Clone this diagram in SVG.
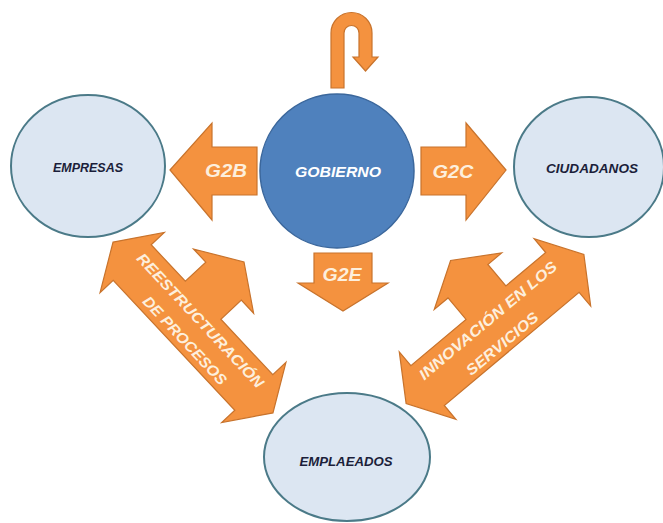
<svg xmlns="http://www.w3.org/2000/svg" width="663" height="523" viewBox="0 0 663 523">
<style>
.arrow{fill:#F4923F;stroke:#C8732C;stroke-width:1.2;stroke-linejoin:miter}
.alabel{font-family:"Liberation Sans",Arial,sans-serif;font-weight:bold;font-style:italic;fill:#FDEFDD;text-anchor:middle}
.node{fill:#DCE6F2;stroke:#4B7A88;stroke-width:2}
.gov{fill:#4F81BD;stroke:#3B679C;stroke-width:1.5}
.nlabel{font-family:"Liberation Sans",Arial,sans-serif;font-weight:bold;font-style:italic;font-size:13px;fill:#1B1E3A;text-anchor:middle}
.glabel{font-family:"Liberation Sans",Arial,sans-serif;font-weight:bold;font-style:italic;font-size:15px;fill:#FFFFFF;text-anchor:middle}
</style>
<rect width="663" height="523" fill="#FFFFFF"/>
<g id="connectors">
  <g id="self-loop">
    <path class="arrow" d="M331,88 L331,33 A20.5,20.5 0 0 1 372,33 L372,57 L378,57 L365.5,71 L353,57 L359,57 L359,33 A7.5,7.5 0 0 0 344,33 L344,88 Z"/>
  </g>
  <g id="g2b">
    <path class="arrow" d="M170,170 L212,123 L212,147 L257,147 L257,195 L212,195 L212,220 Z"/>
    <text class="alabel" x="226" y="177" font-size="19" textLength="42" lengthAdjust="spacingAndGlyphs">G2B</text>
  </g>
  <g id="g2c">
    <path class="arrow" d="M506,170 L466,123 L466,147 L421,147 L421,195 L466,195 L466,220 Z"/>
    <text class="alabel" x="453" y="178" font-size="19" textLength="41" lengthAdjust="spacingAndGlyphs">G2C</text>
  </g>
  <g id="g2e">
    <path class="arrow" d="M314,253 L372,253 L372,283 L388,283 L343,311 L298,283 L314,283 Z"/>
    <text class="alabel" x="342" y="281" font-size="18" textLength="39" lengthAdjust="spacingAndGlyphs">G2E</text>
  </g>
  <g id="reestructuracion" transform="translate(193,327.5) rotate(46.9)">
    <path class="arrow" d="M-117,0 L-89,-44 L-89,-26 L-39,-26 L-39,-54 L-57,-54 L-13,-82 L31,-54 L13,-54 L13,-26 L89,-26 L89,-44 L117,0 L89,44 L89,26 L-89,26 L-89,44 Z"/>
    <text class="alabel" x="0" y="-5" font-size="15" textLength="178" lengthAdjust="spacingAndGlyphs">REESTRUCTURACIÓN</text>
    <text class="alabel" x="4" y="20" font-size="15" textLength="115" lengthAdjust="spacingAndGlyphs">DE PROCESOS</text>
  </g>
  <g id="innovacion" transform="translate(495,329) rotate(-40)">
    <path class="arrow" d="M-116,0 L-88,-44 L-88,-26 L-16,-26 L-16,-54 L-34,-54 L10,-81 L54,-54 L36,-54 L36,-26 L88,-26 L88,-44 L116,0 L88,44 L88,26 L-88,26 L-88,44 Z"/>
    <text class="alabel" x="0" y="-6" font-size="15" textLength="175" lengthAdjust="spacingAndGlyphs">INNOVACIÓN EN LOS</text>
    <text class="alabel" x="-4" y="21" font-size="15" textLength="89" lengthAdjust="spacingAndGlyphs">SERVICIOS</text>
  </g>
</g>
<g id="empresas">
  <ellipse class="node" cx="88" cy="166" rx="77" ry="71"/>
  <text class="nlabel" x="88" y="172" textLength="70" lengthAdjust="spacingAndGlyphs">EMPRESAS</text>
</g>
<g id="gobierno">
  <circle class="gov" cx="337" cy="171" r="77"/>
  <text class="glabel" x="338" y="177" textLength="86" lengthAdjust="spacingAndGlyphs">GOBIERNO</text>
</g>
<g id="ciudadanos">
  <ellipse class="node" cx="589" cy="167" rx="75" ry="70"/>
  <text class="nlabel" x="592" y="173" textLength="92" lengthAdjust="spacingAndGlyphs">CIUDADANOS</text>
</g>
<g id="emplaeados">
  <ellipse class="node" cx="347" cy="457" rx="83" ry="64"/>
  <text class="nlabel" x="346" y="466" textLength="93" lengthAdjust="spacingAndGlyphs">EMPLAEADOS</text>
</g>
</svg>
